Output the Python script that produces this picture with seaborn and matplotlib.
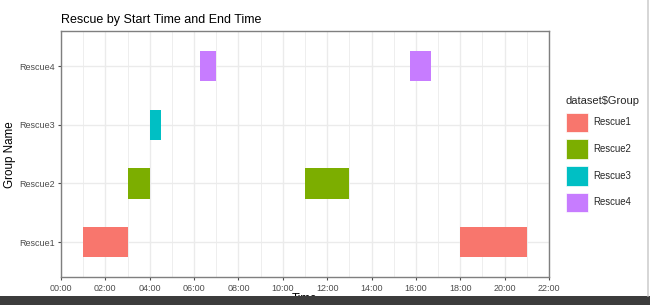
import matplotlib
matplotlib.use("Agg")
import matplotlib.pyplot as plt
from matplotlib.patches import Patch, Rectangle
from matplotlib.lines import Line2D
from matplotlib.ticker import MultipleLocator
import seaborn as sns
import pandas as pd

# ---- data ----
groups = ["Rescue1", "Rescue1", "Rescue2", "Rescue2", "Rescue3", "Rescue4", "Rescue4"]
start_times = ["01:00", "18:00", "03:00", "11:00", "04:00", "06:15", "15:45"]
end_times = ["03:00", "21:00", "04:00", "13:00", "04:30", "07:00", "16:40"]
categories = ["Rescue1", "Rescue2", "Rescue3", "Rescue4"]
x_tick_labels = ["00:00", "02:00", "04:00", "06:00", "08:00", "10:00",
                 "12:00", "14:00", "16:00", "18:00", "20:00", "22:00"]
colors = ["#F8766D", "#7CAE00", "#00BFC4", "#C77CFF"]

def to_hours(s):
    h, m = s.split(":")
    return int(h) + int(m) / 60.0

df = pd.DataFrame({"Group": groups, "start": start_times, "end": end_times})
df["s"] = df["start"].map(to_hours)
df["e"] = df["end"].map(to_hours)
df["y"] = df["Group"].map({c: i for i, c in enumerate(categories)})

sns.set_theme(style="whitegrid")
plt.rcParams["font.family"] = ["Liberation Sans", "DejaVu Sans"]
palette = dict(zip(categories, colors))

fig = plt.figure(figsize=(6.5, 3.05), dpi=100)
fig.patch.set_facecolor("white")
ax = fig.add_axes([61 / 650, 1 - 277.3 / 305, (549 - 61) / 650, (277.3 - 31) / 305])
ax.set_facecolor("white")

ax.barh(df["y"], df["e"] - df["s"], left=df["s"], height=0.52,
        color=[palette[g] for g in df["Group"]], zorder=3, linewidth=0)

ax.set_xlim(0, 22)
ax.set_ylim(-0.6, len(categories) - 0.4)
ax.xaxis.set_minor_locator(MultipleLocator(1))
ax.set_xticks(range(0, 23, 2))
ax.set_xticklabels(x_tick_labels)
ax.set_yticks(range(len(categories)))
ax.set_yticklabels(categories)

ax.grid(which="major", color="#ebebeb", linewidth=1.0, zorder=0)
ax.grid(which="minor", axis="x", color="#ebebeb", linewidth=0.6, zorder=0)
ax.set_axisbelow(True)
for sp in ax.spines.values():
    sp.set_visible(True)
    sp.set_color("#7f7f7f")
    sp.set_linewidth(1.0)

ax.tick_params(axis="both", which="major", labelsize=6.5, colors="#4d4d4d",
               length=2.5, width=0.8, pad=2, direction="out",
               bottom=True, left=True)
ax.tick_params(axis="x", which="minor", length=0)
for lbl in ax.get_xticklabels() + ax.get_yticklabels():
    lbl.set_color("#4d4d4d")

ax.set_xlabel("Time", fontsize=8.4, color="black", labelpad=0)
ax.set_ylabel("Group Name", fontsize=8.4, color="black")
ax.yaxis.set_label_coords(-0.092, 0.5)
ax.set_title("Rescue by Start Time and End Time", fontsize=9, loc="left",
             color="black", pad=6)

handles = [Patch(facecolor=palette[c], edgecolor="white", linewidth=0.5, label=c)
           for c in categories]
leg = fig.legend(handles=handles, title=r"dataset\$Group", loc="upper left",
                 bbox_to_anchor=(558 / 650, 1 - 88 / 305), frameon=False,
                 prop={"size": 6.9}, title_fontsize=8, handlelength=2.35,
                 handleheight=2.8, labelspacing=0.72, handletextpad=0.5,
                 borderpad=0.3, alignment="left")

# screenshot edges
fig.add_artist(Rectangle((0, 0), 1, 9 / 305, transform=fig.transFigure,
                         facecolor="#3c3c3c", edgecolor="none", zorder=10))
fig.add_artist(Line2D([648 / 650, 648 / 650], [9 / 305, 1], transform=fig.transFigure,
                      color="#cfcfcf", linewidth=1.2, zorder=10))

fig.savefig("out.png", dpi=100, facecolor="white")
